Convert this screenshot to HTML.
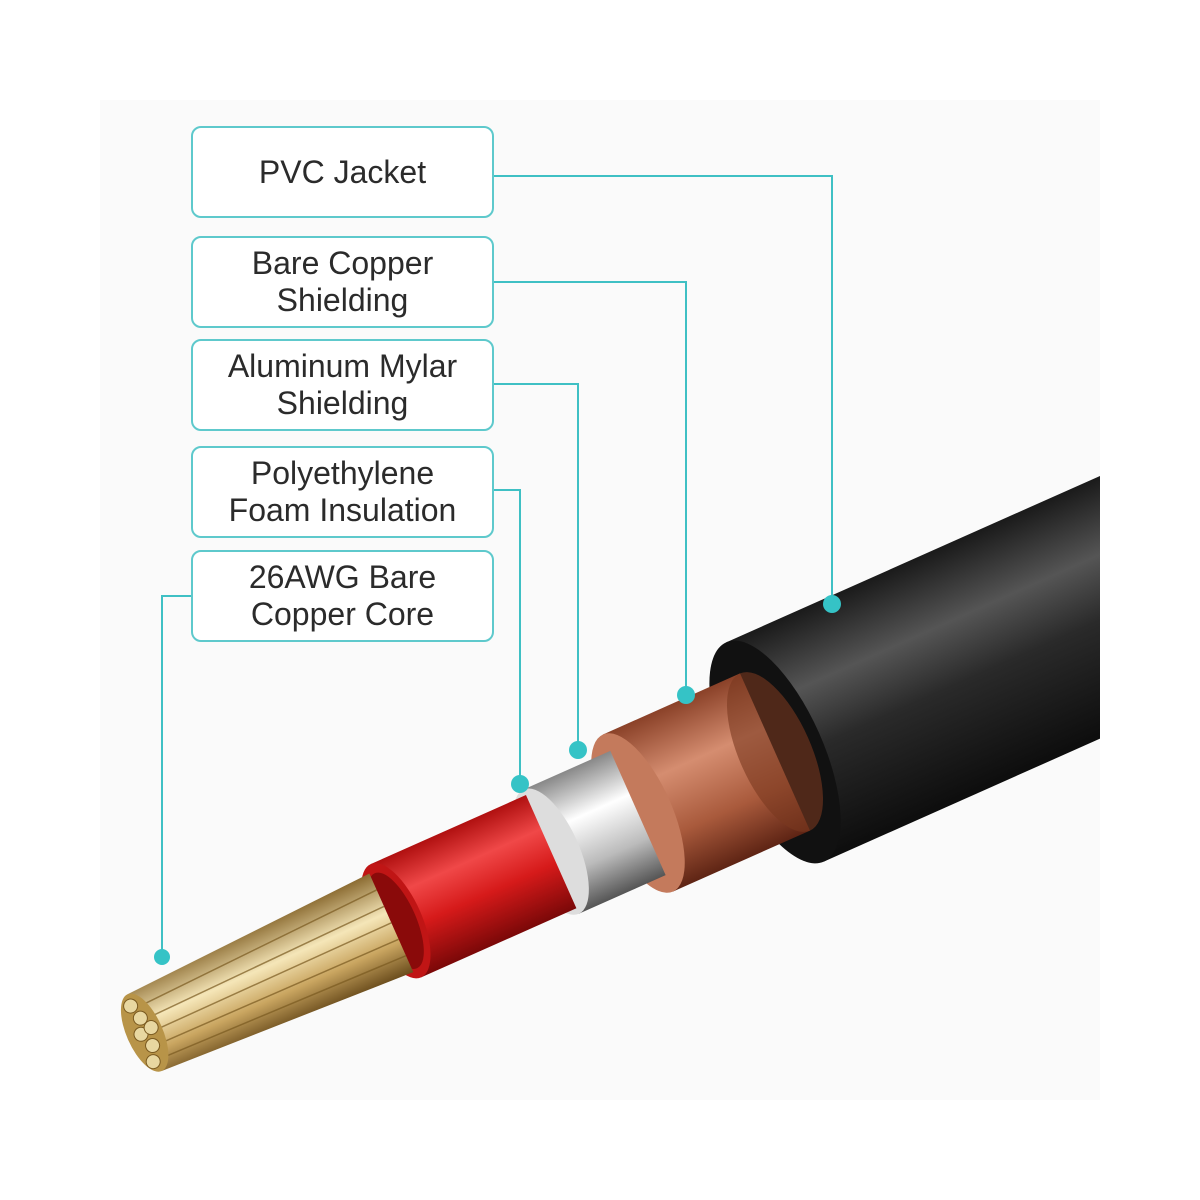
<!DOCTYPE html>
<html><head><meta charset="utf-8"><style>
body{margin:0;background:#fff;}
.box{position:absolute;left:191px;width:303px;border:2px solid #5ec9cc;border-radius:10px;background:#fff;display:flex;align-items:center;justify-content:center;text-align:center;font-family:"Liberation Sans",sans-serif;font-size:32px;line-height:37px;color:#2b2b2b;box-sizing:border-box;}
</style></head><body>
<div style="position:relative;width:1200px;height:1200px;overflow:hidden;">
<svg width="1200" height="1200" style="position:absolute;left:0;top:0">
<defs>
<clipPath id="cp"><rect x="100" y="100" width="1000" height="1000"/></clipPath>
<linearGradient id="jk" x1="0" y1="0" x2="0" y2="1"><stop offset="0" stop-color="#1a1a1a"/><stop offset="0.3" stop-color="#555"/><stop offset="0.55" stop-color="#2a2a2a"/><stop offset="1" stop-color="#0d0d0d"/></linearGradient>
<linearGradient id="cu" x1="0" y1="0" x2="0" y2="1"><stop offset="0" stop-color="#8a4128"/><stop offset="0.35" stop-color="#d58d70"/><stop offset="0.7" stop-color="#a95a3c"/><stop offset="1" stop-color="#5e2414"/></linearGradient>
<linearGradient id="al" x1="0" y1="0" x2="0" y2="1"><stop offset="0" stop-color="#888"/><stop offset="0.35" stop-color="#fff"/><stop offset="0.7" stop-color="#bbb"/><stop offset="1" stop-color="#555"/></linearGradient>
<linearGradient id="rd" x1="0" y1="0" x2="0" y2="1"><stop offset="0" stop-color="#b01010"/><stop offset="0.3" stop-color="#f04848"/><stop offset="0.6" stop-color="#d61a1a"/><stop offset="1" stop-color="#7a0808"/></linearGradient>
<linearGradient id="au" x1="0" y1="0" x2="0" y2="1"><stop offset="0" stop-color="#8a6a30"/><stop offset="0.4" stop-color="#f5e6b8"/><stop offset="0.7" stop-color="#c9a560"/><stop offset="1" stop-color="#6a4c1c"/></linearGradient>
</defs>
<rect x="100" y="100" width="1000" height="1000" fill="#fafafa"/>
<g clip-path="url(#cp)">
<g transform="translate(775,752) rotate(-24)">
 <rect x="0" y="-120" width="700" height="240" fill="url(#jk)"/>
 <ellipse cx="0" cy="0" rx="48" ry="120" fill="#111"/>
 <rect x="-150" y="-86" width="150" height="172" fill="url(#cu)"/>
 <ellipse cx="0" cy="0" rx="36" ry="86" fill="#7a3820" opacity="0.6"/>
 <ellipse cx="-150" cy="0" rx="34" ry="86" fill="#c47a5c"/>
 <rect x="-245" y="-68" width="95" height="136" fill="url(#al)"/>
 <ellipse cx="-245" cy="0" rx="28" ry="68" fill="#ddd"/>
 <rect x="-415" y="-62" width="170" height="124" fill="url(#rd)"/>
 <ellipse cx="-415" cy="0" rx="26" ry="62" fill="#c01515"/>
 <ellipse cx="-415" cy="0" rx="20" ry="52" fill="#8a0a0a"/>
 <polygon points="-420,-54 -690,-42 -690,42 -420,54" fill="url(#au)"/>
 <g stroke="#7a5a20" stroke-width="1.5" opacity="0.7">
  <line x1="-420" y1="-36" x2="-690" y2="-26"/><line x1="-420" y1="-18" x2="-690" y2="-12"/>
  <line x1="-420" y1="0" x2="-690" y2="2"/><line x1="-420" y1="18" x2="-690" y2="16"/><line x1="-420" y1="36" x2="-690" y2="30"/>
 </g>
 <ellipse cx="-690" cy="0" rx="18" ry="42" fill="#b89448"/>
 <g fill="#e8d7a0" stroke="#7a5a20" stroke-width="1">
  <circle cx="-692" cy="-30" r="7"/><circle cx="-688" cy="-15" r="7"/><circle cx="-694" cy="0" r="7"/><circle cx="-688" cy="15" r="7"/><circle cx="-694" cy="30" r="7"/><circle cx="-682" cy="-2" r="7"/>
 </g>
</g>
</g>
<g stroke="#3fc0c4" stroke-width="2" fill="none">
 <polyline points="494,176 832,176 832,604"/>
 <polyline points="494,282 686,282 686,695"/>
 <polyline points="494,384 578,384 578,750"/>
 <polyline points="494,490 520,490 520,784"/>
 <polyline points="191,596 162,596 162,957"/>
</g>
<g fill="#35c3c6">
 <circle cx="832" cy="604" r="9"/><circle cx="686" cy="695" r="9"/><circle cx="578" cy="750" r="9"/><circle cx="520" cy="784" r="9"/><circle cx="162" cy="957" r="8"/>
</g>
</svg>
<div class="box" style="top:126px;height:92px">PVC Jacket</div>
<div class="box" style="top:236px;height:92px">Bare Copper<br>Shielding</div>
<div class="box" style="top:339px;height:92px">Aluminum Mylar<br>Shielding</div>
<div class="box" style="top:446px;height:92px">Polyethylene<br>Foam Insulation</div>
<div class="box" style="top:550px;height:92px">26AWG Bare<br>Copper Core</div>
</div>
</body></html>
